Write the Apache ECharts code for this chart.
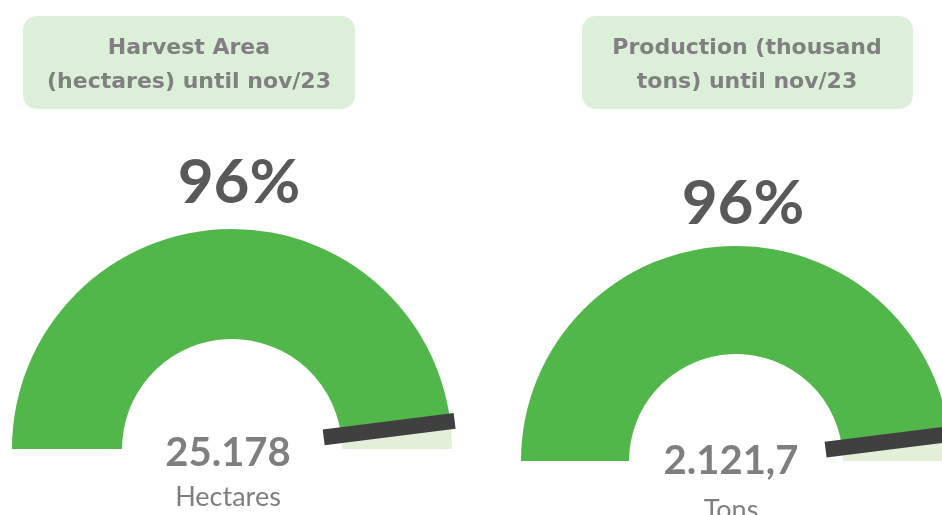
<!DOCTYPE html>
<html>
<head>
<meta charset="utf-8">
<script src="https://cdn.jsdelivr.net/npm/echarts@6/dist/echarts.min.js"></script>
<style>
html,body{margin:0;padding:0;background:#fff;}
#chart{width:942px;height:515px;}
</style>
</head>
<body>
<div id="chart"></div>
<script>
// ---- data ----
const headerLines = [
  ['Harvest Area', '(hectares) until nov/23'],
  ['Production (thousand', 'tons) until nov/23']
];
const percentValues = [96, 96];
const totalLabels = ['25.178', '2.121,7'];
const unitLabels = ['Hectares', 'Tons'];

// ---- layout / style ----
const layouts = [
  { cx: 232, cy: 449, R: 220, band: 110, box: [23, 16, 332, 93], boxCx: 189, pctOff: [7, -266], totalY: 453, unitY: 497, textCx: 228 },
  { cx: 736, cy: 461, R: 215, band: 108, box: [582, 16, 331, 93], boxCx: 747, pctOff: [7, -257], totalY: 461, unitY: 510, textCx: 731 }
];
const GREEN = '#52B74A', LIGHT = '#E2F0D9', NEEDLE = '#404040', BOX = '#DCEFD9';

const hidden = {
  anchor: { show: false },
  axisTick: { show: false },
  splitLine: { show: false },
  axisLabel: { show: false },
  title: { show: false }
};

const series = [];
percentValues.forEach((v, i) => {
  const L = layouts[i];
  series.push(Object.assign({
    type: 'gauge',
    z: 2,
    center: [L.cx, L.cy],
    radius: L.R,
    startAngle: 180,
    endAngle: 0,
    min: 0,
    max: 100,
    axisLine: { lineStyle: { width: L.band, color: [[1, LIGHT]] } },
    progress: { show: true, width: L.band, roundCap: false, itemStyle: { color: GREEN } },
    pointer: { show: false },
    detail: {
      show: true,
      offsetCenter: L.pctOff,
      formatter: '{value}%',
      fontFamily: 'Lato',
      fontWeight: 'bold',
      fontSize: 62,
      color: '#595959'
    },
    data: [{ value: v }]
  }, hidden));
  // needle overlay
  series.push(Object.assign({
    type: 'gauge',
    z: 4,
    center: [L.cx, L.cy],
    radius: L.R,
    startAngle: 180,
    endAngle: 0,
    min: 0,
    max: 100,
    axisLine: { show: false },
    progress: { show: false },
    pointer: { show: true, icon: 'rect', length: '60%', width: 16, offsetCenter: [0, '-42%'], itemStyle: { color: NEEDLE } },
    detail: { show: false },
    data: [{ value: v }]
  }, hidden));
});

const graphics = [];
headerLines.forEach((lines, i) => {
  const L = layouts[i];
  graphics.push({
    type: 'rect', silent: true, z: 1,
    shape: { x: L.box[0], y: L.box[1], width: L.box[2], height: L.box[3], r: 14 },
    style: { fill: BOX }
  });
  lines.forEach((t, k) => {
    graphics.push({
      type: 'text', silent: true, z: 2,
      x: L.boxCx, y: 48.5 + k * 34,
      style: { text: t, fill: '#808080', font: 'bold 22px "DejaVu Sans"', textAlign: 'center', textVerticalAlign: 'middle' }
    });
  });
  graphics.push({
    type: 'text', silent: true, z: 5,
    x: L.textCx, y: L.totalY,
    style: { text: totalLabels[i], fill: '#7F7F7F', font: 'bold 40px Lato', textAlign: 'center', textVerticalAlign: 'middle' }
  });
  graphics.push({
    type: 'text', silent: true, z: 5,
    x: L.textCx, y: L.unitY,
    style: { text: unitLabels[i], fill: '#7F7F7F', font: '27px Lato', textAlign: 'center', textVerticalAlign: 'middle' }
  });
});

const chart = echarts.init(document.getElementById('chart'), null, { renderer: 'canvas' });
chart.setOption({
  animation: false,
  backgroundColor: '#ffffff',
  series: series,
  graphic: graphics
});
</script>
</body>
</html>
